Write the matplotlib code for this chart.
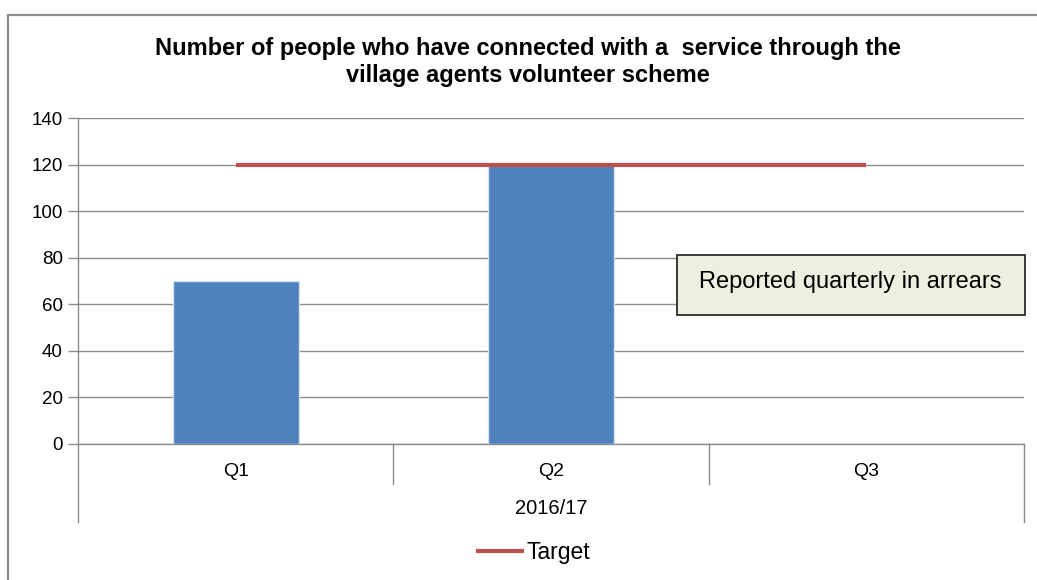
import matplotlib
matplotlib.use("Agg")
import matplotlib.pyplot as plt
from matplotlib.patches import Rectangle
from matplotlib.transforms import blended_transform_factory
import numpy as np

plt.rcParams['font.family'] = ['Liberation Sans', 'DejaVu Sans']

categories = ["Q1", "Q2", "Q3"]
group_label = "2016/17"
values = [70, 120, np.nan]
target = [120, 120, 120]
yticks = [0, 20, 40, 60, 80, 100, 120, 140]
title = "Number of people who have connected with a  service through the\nvillage agents volunteer scheme"
note = "Reported quarterly in arrears"

W, H = 1037, 580
fig = plt.figure(figsize=(W / 100, H / 100), dpi=100)

def fx(px):
    return px / W

def fy(py):
    return 1 - py / H

# outer chart border
fig.patches.append(Rectangle((fx(8), fy(600)), fx(1100), (600 - 15) / H,
                             transform=fig.transFigure, fill=False,
                             edgecolor="#8c8c8c", linewidth=1.6))

ax = fig.add_axes([fx(78), fy(444), fx(1024 - 78), (444 - 118) / H])
x = np.arange(len(categories))
ax.bar(x, values, width=0.4, color="#4F81BD", edgecolor="#d9e2ef",
       linewidth=1.0, zorder=3)
ax.plot(x, target, color="#C0504D", linewidth=3.0, zorder=4,
        solid_capstyle="butt", label="Target")

ax.set_xlim(-0.5, len(categories) - 0.5)
ax.set_ylim(0, 140)
ax.set_yticks(yticks)
ax.set_yticklabels([str(t) for t in yticks], fontsize=13.5)
ax.yaxis.grid(True, color="#8c8c8c", linewidth=1.0, zorder=0)
ax.set_axisbelow(True)
ax.tick_params(axis="y", length=7, color="#8c8c8c", width=1.0, pad=4)
for s in ["top", "right"]:
    ax.spines[s].set_visible(False)
for s in ["left", "bottom"]:
    ax.spines[s].set_color("#8c8c8c")
    ax.spines[s].set_linewidth(1.0)

ax.set_xticks(x)
ax.set_xticklabels(categories, fontsize=14)
ax.tick_params(axis="x", length=0, pad=14)

ax_h = 444 - 118
trans = blended_transform_factory(ax.transData, ax.transAxes)
for xs in [0.5, 1.5]:
    ax.plot([xs, xs], [0, -40 / ax_h], transform=trans, color="#8c8c8c",
            linewidth=1.0, clip_on=False)
for xs in [-0.5, len(categories) - 0.5]:
    ax.plot([xs, xs], [0, -78 / ax_h], transform=trans, color="#8c8c8c",
            linewidth=1.0, clip_on=False)
ax.text(np.mean(x), -(508 - 444) / ax_h, group_label, transform=trans,
        ha="center", va="center", fontsize=14.5)

fig.text(fx(528), fy(62), title, ha="center", va="center", fontsize=17,
         fontweight="bold", linespacing=1.25)

# note box
fig.patches.append(Rectangle((fx(677), fy(315)), fx(1025 - 677), (315 - 255) / H,
                             transform=fig.transFigure, facecolor="#EBF1DE",
                             edgecolor="#1a1a1a", linewidth=1.2, zorder=5))
fig.text(fx(850), fy(282), note, ha="center", va="center", fontsize=17,
         zorder=6)

fig.legend(handles=ax.get_lines()[:1], loc="center",
           bbox_to_anchor=(fx(533), fy(553)), frameon=False, fontsize=16.5,
           handlelength=2.1, handletextpad=0.1)

fig.savefig("out.png", dpi=100)
